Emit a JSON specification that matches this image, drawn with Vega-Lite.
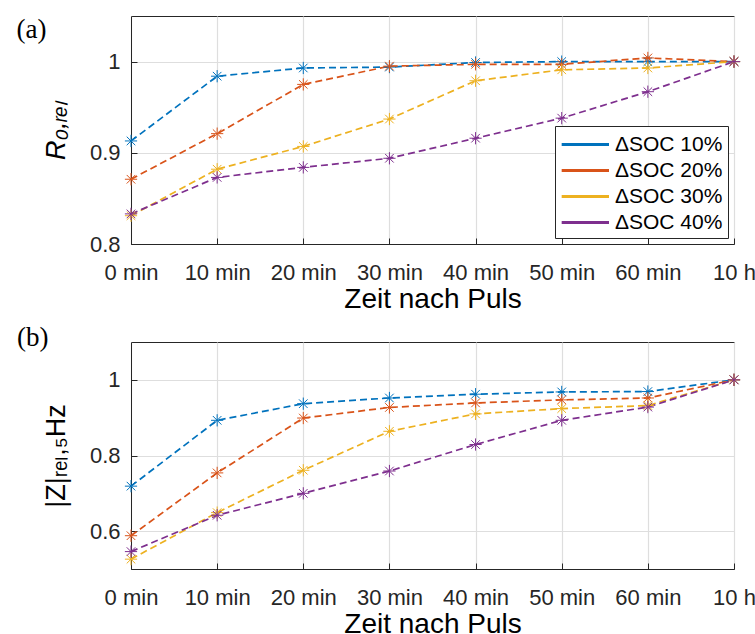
{
  "$schema": "https://vega.github.io/schema/vega-lite/v6.json",
  "padding": {"left": 15, "top": 15, "right": 0, "bottom": 0},
  "background": "white",
  "config": {
    "view": {"stroke": "#262626", "strokeWidth": 1},
    "font": "Liberation Sans",
    "axis": {
      "labelFont": "Liberation Sans", "labelFontSize": 22, "labelColor": "#262626",
      "titleFont": "Liberation Sans", "titleFontWeight": "normal", "titleColor": "#000000",
      "domainColor": "#262626", "ticks": true, "tickSize": -6, "tickColor": "#262626", "tickWidth": 1,
      "gridColor": "#dedede", "gridWidth": 1.2
    }
  },
  "datasets": {
    "a": [
      {"t": "0 min", "s": "ΔSOC 10%", "v": 0.913}, {"t": "10 min", "s": "ΔSOC 10%", "v": 0.984}, {"t": "20 min", "s": "ΔSOC 10%", "v": 0.993}, {"t": "30 min", "s": "ΔSOC 10%", "v": 0.994}, {"t": "40 min", "s": "ΔSOC 10%", "v": 0.999}, {"t": "50 min", "s": "ΔSOC 10%", "v": 1.0}, {"t": "60 min", "s": "ΔSOC 10%", "v": 1.0}, {"t": "10 h", "s": "ΔSOC 10%", "v": 1.0},
      {"t": "0 min", "s": "ΔSOC 20%", "v": 0.871}, {"t": "10 min", "s": "ΔSOC 20%", "v": 0.921}, {"t": "20 min", "s": "ΔSOC 20%", "v": 0.975}, {"t": "30 min", "s": "ΔSOC 20%", "v": 0.995}, {"t": "40 min", "s": "ΔSOC 20%", "v": 0.997}, {"t": "50 min", "s": "ΔSOC 20%", "v": 0.997}, {"t": "60 min", "s": "ΔSOC 20%", "v": 1.004}, {"t": "10 h", "s": "ΔSOC 20%", "v": 1.0},
      {"t": "0 min", "s": "ΔSOC 30%", "v": 0.831}, {"t": "10 min", "s": "ΔSOC 30%", "v": 0.882}, {"t": "20 min", "s": "ΔSOC 30%", "v": 0.907}, {"t": "30 min", "s": "ΔSOC 30%", "v": 0.937}, {"t": "40 min", "s": "ΔSOC 30%", "v": 0.979}, {"t": "50 min", "s": "ΔSOC 30%", "v": 0.991}, {"t": "60 min", "s": "ΔSOC 30%", "v": 0.993}, {"t": "10 h", "s": "ΔSOC 30%", "v": 1.0},
      {"t": "0 min", "s": "ΔSOC 40%", "v": 0.833}, {"t": "10 min", "s": "ΔSOC 40%", "v": 0.873}, {"t": "20 min", "s": "ΔSOC 40%", "v": 0.884}, {"t": "30 min", "s": "ΔSOC 40%", "v": 0.894}, {"t": "40 min", "s": "ΔSOC 40%", "v": 0.916}, {"t": "50 min", "s": "ΔSOC 40%", "v": 0.938}, {"t": "60 min", "s": "ΔSOC 40%", "v": 0.967}, {"t": "10 h", "s": "ΔSOC 40%", "v": 1.0}
    ],
    "b": [
      {"t": "0 min", "s": "ΔSOC 10%", "v": 0.719}, {"t": "10 min", "s": "ΔSOC 10%", "v": 0.893}, {"t": "20 min", "s": "ΔSOC 10%", "v": 0.937}, {"t": "30 min", "s": "ΔSOC 10%", "v": 0.952}, {"t": "40 min", "s": "ΔSOC 10%", "v": 0.962}, {"t": "50 min", "s": "ΔSOC 10%", "v": 0.968}, {"t": "60 min", "s": "ΔSOC 10%", "v": 0.969}, {"t": "10 h", "s": "ΔSOC 10%", "v": 1.0},
      {"t": "0 min", "s": "ΔSOC 20%", "v": 0.588}, {"t": "10 min", "s": "ΔSOC 20%", "v": 0.754}, {"t": "20 min", "s": "ΔSOC 20%", "v": 0.899}, {"t": "30 min", "s": "ΔSOC 20%", "v": 0.927}, {"t": "40 min", "s": "ΔSOC 20%", "v": 0.939}, {"t": "50 min", "s": "ΔSOC 20%", "v": 0.947}, {"t": "60 min", "s": "ΔSOC 20%", "v": 0.952}, {"t": "10 h", "s": "ΔSOC 20%", "v": 1.0},
      {"t": "0 min", "s": "ΔSOC 30%", "v": 0.526}, {"t": "10 min", "s": "ΔSOC 30%", "v": 0.649}, {"t": "20 min", "s": "ΔSOC 30%", "v": 0.761}, {"t": "30 min", "s": "ΔSOC 30%", "v": 0.864}, {"t": "40 min", "s": "ΔSOC 30%", "v": 0.910}, {"t": "50 min", "s": "ΔSOC 30%", "v": 0.924}, {"t": "60 min", "s": "ΔSOC 30%", "v": 0.932}, {"t": "10 h", "s": "ΔSOC 30%", "v": 1.0},
      {"t": "0 min", "s": "ΔSOC 40%", "v": 0.546}, {"t": "10 min", "s": "ΔSOC 40%", "v": 0.642}, {"t": "20 min", "s": "ΔSOC 40%", "v": 0.700}, {"t": "30 min", "s": "ΔSOC 40%", "v": 0.759}, {"t": "40 min", "s": "ΔSOC 40%", "v": 0.829}, {"t": "50 min", "s": "ΔSOC 40%", "v": 0.893}, {"t": "60 min", "s": "ΔSOC 40%", "v": 0.928}, {"t": "10 h", "s": "ΔSOC 40%", "v": 1.0}
    ]
  },
  "concat": [
    {
      "width": 603, "height": 228,
      "title": {"text": "(a)", "orient": "left", "anchor": "end", "frame": "group", "angle": 0, "align": "left", "baseline": "top", "font": "Liberation Serif", "fontSize": 27, "fontWeight": "normal", "color": "#000000", "offset": -4, "dy": 1},
      "data": {"name": "a"},
      "encoding": {
        "x": {"field": "t", "type": "ordinal", "sort": ["0 min", "10 min", "20 min", "30 min", "40 min", "50 min", "60 min", "10 h"], "scale": {"type": "point", "padding": 0},
              "axis": {"title": "Zeit nach Puls", "titleFontSize": 28, "titlePadding": 2, "labelAngle": 0, "labelPadding": 24, "grid": true}},
        "y": {"field": "v", "type": "quantitative", "scale": {"domain": [0.8, 1.05], "zero": false, "nice": false},
              "axis": {"title": "R₀,ᵣₑₗ", "titleFontSize": 27, "titleFontStyle": "italic", "titlePadding": 19, "values": [0.8, 0.9, 1], "format": "~g", "labelPadding": 17, "grid": true}},
        "color": {"field": "s", "type": "nominal",
                  "scale": {"domain": ["ΔSOC 10%", "ΔSOC 20%", "ΔSOC 30%", "ΔSOC 40%"], "range": ["#0072BD", "#D95319", "#EDB120", "#7E2F8E"]},
                  "legend": {"title": null, "orient": "bottom-right", "offset": 6, "fillColor": "white", "strokeColor": "#262626", "padding": 5, "cornerRadius": 0,
                             "labelFont": "Liberation Sans", "labelFontSize": 21, "labelColor": "#000000",
                             "symbolType": "M-1,0L3,0", "symbolSize": 560, "symbolStrokeWidth": 3, "symbolDash": [1, 0], "symbolFillColor": "transparent",
                             "rowPadding": 2, "labelOffset": 28}}
      },
      "layer": [
        {"mark": {"type": "line", "strokeDash": [7, 4], "strokeWidth": 1.7}},
        {"mark": {"type": "point", "shape": "M-1,0L1,0M0,-1L0,1M-0.7,-0.7L0.7,0.7M-0.7,0.7L0.7,-0.7", "filled": false, "size": 150, "strokeWidth": 1, "opacity": 1},
         "encoding": {"color": {"field": "s", "type": "nominal", "legend": null}}}
      ]
    },
    {
      "width": 603, "height": 227,
      "title": {"text": "(b)", "orient": "left", "anchor": "end", "frame": "group", "angle": 0, "align": "left", "baseline": "top", "font": "Liberation Serif", "fontSize": 27, "fontWeight": "normal", "color": "#000000", "offset": -6, "dy": -17},
      "data": {"name": "b"},
      "encoding": {
        "x": {"field": "t", "type": "ordinal", "sort": ["0 min", "10 min", "20 min", "30 min", "40 min", "50 min", "60 min", "10 h"], "scale": {"type": "point", "padding": 0},
              "axis": {"title": "Zeit nach Puls", "titleFontSize": 28, "titlePadding": 2, "labelAngle": 0, "labelPadding": 24, "grid": true}},
        "y": {"field": "v", "type": "quantitative", "scale": {"domain": [0.5, 1.1], "zero": false, "nice": false},
              "axis": {"title": "|Z|ᵣₑₗ,₅Hz", "titleFontSize": 27, "titlePadding": 19, "values": [0.6, 0.8, 1], "format": "~g", "labelPadding": 17, "grid": true}},
        "color": {"field": "s", "type": "nominal",
                  "scale": {"domain": ["ΔSOC 10%", "ΔSOC 20%", "ΔSOC 30%", "ΔSOC 40%"], "range": ["#0072BD", "#D95319", "#EDB120", "#7E2F8E"]},
                  "legend": null}
      },
      "layer": [
        {"mark": {"type": "line", "strokeDash": [7, 4], "strokeWidth": 1.7}},
        {"mark": {"type": "point", "shape": "M-1,0L1,0M0,-1L0,1M-0.7,-0.7L0.7,0.7M-0.7,0.7L0.7,-0.7", "filled": false, "size": 150, "strokeWidth": 1, "opacity": 1}}
      ]
    }
  ],
  "columns": 1,
  "align": "none",
  "spacing": 9,
  "resolve": {"legend": {"color": "independent"}}
}
